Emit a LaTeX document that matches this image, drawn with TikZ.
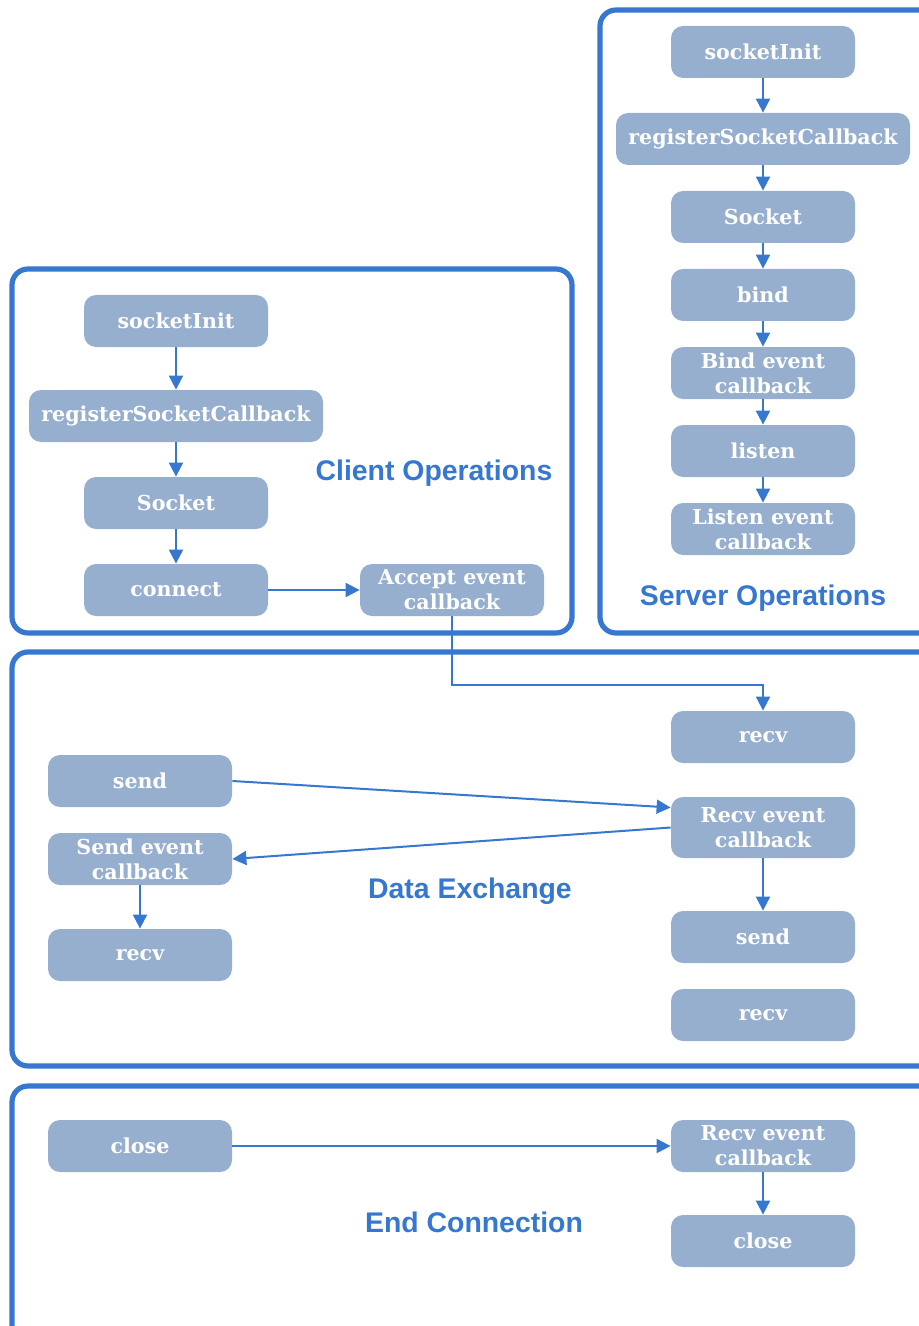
\documentclass[tikz,border=0pt]{standalone}
\usepackage{fontspec}
\setmainfont{DejaVu Serif}
\newfontfamily\labelfont{Liberation Sans}
\usepackage{tikz}
\usetikzlibrary{arrows.meta}

\definecolor{frameblue}{HTML}{3677CF}
\definecolor{boxfill}{HTML}{97AFCF}

\tikzset{
	stepbox/.style = {fill=boxfill, rounded corners=6pt, minimum width=92pt, minimum height=26pt,
		inner sep=1pt, align=center, text=white, font=\fontsize{10.3}{12.5}\selectfont\bfseries},
	widebox/.style = {stepbox, minimum width=147pt},
	groupframe/.style = {draw=frameblue, line width=2.6pt, rounded corners=8pt},
	grouplabel/.style = {text=frameblue, font=\labelfont\fontsize{14.2}{17}\selectfont\bfseries},
	flow/.style = {draw=frameblue, line width=1pt, -{Triangle[length=7pt,width=7pt]}}
}

\begin{document}
\begin{tikzpicture}[x=0.5pt,y=-0.5pt]
		\useasboundingbox (0,0) rectangle (919,1326);
		\clip (0,0) rectangle (919,1326);
		%\draw [help lines, step=100] (0,0) grid (919,1326);

		% frames
		\draw [groupframe] (600,10) rectangle (940,633);
		\draw [groupframe] (12,269) rectangle (572,633);
		\draw [groupframe] (12,652) rectangle (940,1066);
		\draw [groupframe] (12,1086) rectangle (940,1350);

		% server side
		\node [stepbox] (sinit) at (763,52) {socketInit};
		\node [widebox] (sreg) at (763,139) {registerSocketCallback};
		\node [stepbox] (ssock) at (763,217) {Socket};
		\node [stepbox] (sbind) at (763,295) {bind};
		\node [stepbox] (sbindcb) at (763,373) {Bind event\\callback};
		\node [stepbox] (slisten) at (763,451) {listen};
		\node [stepbox] (slistencb) at (763,529) {Listen event\\callback};
		\node [grouplabel] (slabel) at (763,598) {Server Operations};

		\draw [flow] (sinit) -- (sreg);
		\draw [flow] (sreg) -- (ssock);
		\draw [flow] (ssock) -- (sbind);
		\draw [flow] (sbind) -- (sbindcb);
		\draw [flow] (sbindcb) -- (slisten);
		\draw [flow] (slisten) -- (slistencb);

		% client side
		\node [stepbox] (cinit) at (176,321) {socketInit};
		\node [widebox] (creg) at (176,416) {registerSocketCallback};
		\node [stepbox] (csock) at (176,503) {Socket};
		\node [stepbox] (cconn) at (176,590) {connect};
		\node [stepbox] (cacc) at (452,590) {Accept event\\callback};
		\node [grouplabel] (clabel) at (434,473) {Client Operations};

		\draw [flow] (cinit) -- (creg);
		\draw [flow] (creg) -- (csock);
		\draw [flow] (csock) -- (cconn);
		\draw [flow] (cconn) -- (cacc);

		% data exchange
		\node [stepbox] (srecv) at (763,737) {recv};
		\node [stepbox, minimum height=30.5pt] (srecvcb) at (763,827.5) {Recv event\\callback};
		\node [stepbox] (ssend) at (763,937) {send};
		\node [stepbox] (srecvb) at (763,1015) {recv};
		\node [stepbox] (csend) at (140,781) {send};
		\node [stepbox] (csendcb) at (140,859) {Send event\\callback};
		\node [stepbox] (crecv) at (140,955) {recv};
		\node [grouplabel] (dlabel) at (470,891) {Data Exchange};

		\draw [flow] (cacc.south) |- (763,685) -- (srecv.north);
		\draw [flow] (csend.east) -- ([yshift=10pt]srecvcb.west);
		\draw [flow] (srecvcb.west) -- (csendcb.east);
		\draw [flow] (csendcb) -- (crecv);
		\draw [flow] (srecvcb) -- (ssend);

		% end connection
		\node [stepbox] (cclose) at (140,1146) {close};
		\node [stepbox] (eclosecb) at (763,1146) {Recv event\\callback};
		\node [stepbox] (sclose) at (763,1241) {close};
		\node [grouplabel] (elabel) at (474,1222) {End Connection};

		\draw [flow] (cclose) -- (eclosecb);
		\draw [flow] (eclosecb) -- (sclose);
\end{tikzpicture}
\end{document}
